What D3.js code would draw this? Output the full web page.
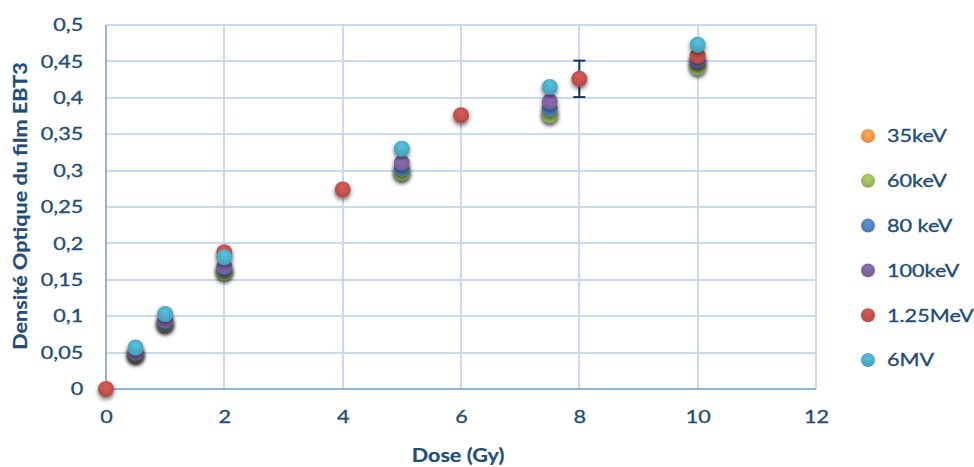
<!DOCTYPE html>
<meta charset='utf-8'>
<style>
body { margin: 0; background: #fff; overflow: hidden; }
text { font-family: Lato, 'Open Sans', sans-serif; fill: #1f4e79; stroke: #1f4e79; stroke-width: 0.35px; }
.grid line { stroke: #c9daf0; stroke-width: 2; shape-rendering: crispEdges; }
.axis path, .axis line { display: none; }
</style>
<svg width='974' height='467'></svg>
<script src='https://cdnjs.cloudflare.com/ajax/libs/d3/7.8.5/d3.min.js'></script>
<script>

// series (Office palette), doses in Gy, optical density values
var seriesNames = ['35keV', '60keV', '80 keV', '100keV', '1.25MeV', '6MV'];
var seriesColors = ['#f79646', '#9bbb59', '#4f81bd', '#8064a2', '#c0504d', '#4bacc6'];

var dose_kV = [0.5, 1, 2, 5, 7.5, 10];
var od_35keV = [0.048, 0.090, 0.162, 0.298, 0.378, 0.445];
var od_60keV = [0.047, 0.089, 0.160, 0.297, 0.376, 0.442];
var od_80keV = [0.049, 0.091, 0.165, 0.303, 0.385, 0.450];
var od_100keV = [0.050, 0.094, 0.168, 0.311, 0.395, 0.452];

var dose_co = [0, 2, 4, 6, 8, 10];
var od_125MeV = [0, 0.188, 0.274, 0.376, 0.426, 0.458];
var err_125MeV = [0, 0, 0, 0, 0.025, 0];

var dose_6MV = [0.5, 1, 2, 5, 7.5, 10];
var od_6MV = [0.057, 0.103, 0.181, 0.330, 0.415, 0.473];

var xTicks = [0, 2, 4, 6, 8, 10, 12];
var yTicks = [0, 0.05, 0.1, 0.15, 0.2, 0.25, 0.3, 0.35, 0.4, 0.45, 0.5];

var series = [
    { name: seriesNames[0], color: seriesColors[0], x: dose_kV, y: od_35keV },
    { name: seriesNames[1], color: seriesColors[1], x: dose_kV, y: od_60keV },
    { name: seriesNames[2], color: seriesColors[2], x: dose_kV, y: od_80keV },
    { name: seriesNames[3], color: seriesColors[3], x: dose_kV, y: od_100keV },
    { name: seriesNames[4], color: seriesColors[4], x: dose_co, y: od_125MeV, err: err_125MeV },
    { name: seriesNames[5], color: seriesColors[5], x: dose_6MV, y: od_6MV }
];

var svg = d3.select('svg'),
    margin = { left: 106, right: 158, top: 25, bottom: 78 },
    width = +svg.attr('width') - margin.left - margin.right,
    height = +svg.attr('height') - margin.top - margin.bottom,
    stretch = 1.2; // the original text is horizontally widened

var x = d3.scaleLinear().domain([0, 12]).range([0, width]);
var y = d3.scaleLinear().domain([0, 0.5]).range([height, 0]);

var defs = svg.append('defs');
var shadow = defs.append('filter').attr('id', 'shadow')
    .attr('x', '-60%').attr('y', '-60%').attr('width', '220%').attr('height', '220%');
shadow.append('feDropShadow').attr('dx', 0).attr('dy', 2.5).attr('stdDeviation', 2)
    .attr('flood-color', '#000').attr('flood-opacity', 0.55);

// glossy look per series
series.forEach(function(s, i) {
    var g = defs.append('radialGradient').attr('id', 'grad' + i)
        .attr('cx', '50%').attr('cy', '35%').attr('r', '65%');
    g.append('stop').attr('offset', '0%').attr('stop-color', d3.color(s.color).brighter(0.35));
    g.append('stop').attr('offset', '100%').attr('stop-color', d3.color(s.color).darker(0.25));
});

var chart = svg.append('g').attr('transform', `translate(${margin.left},${margin.top})`);

// gridlines
chart.append('g').attr('class', 'grid')
    .selectAll('line.h').data(yTicks.slice(1)).enter().append('line')
    .attr('x1', 0).attr('x2', width).attr('y1', d => y(d)).attr('y2', d => y(d));
chart.append('g').attr('class', 'grid')
    .selectAll('line.v').data(xTicks.slice(1)).enter().append('line')
    .attr('y1', 0).attr('y2', height).attr('x1', d => x(d)).attr('x2', d => x(d));

// axis lines
chart.append('line').attr('x1', 0).attr('x2', 0).attr('y1', 0).attr('y2', height)
    .attr('stroke', '#95b3d7').attr('stroke-width', 2);
chart.append('line').attr('x1', 0).attr('x2', width).attr('y1', height).attr('y2', height)
    .attr('stroke', '#95b3d7').attr('stroke-width', 2);

// tick labels
var fmt = d => String(d).replace('.', ',');
chart.append('g').attr('class', 'axis')
    .attr('transform', `translate(0,${height})`)
    .call(d3.axisBottom(x).tickValues(xTicks).tickSize(0).tickPadding(21).tickFormat(d3.format('d')))
    .selectAll('text').style('font-size', '18px').attr('fill', '#1f4e79')
    .attr('transform', `scale(${stretch},1)`);
chart.append('g').attr('class', 'axis')
    .call(d3.axisLeft(y).tickValues(yTicks).tickSize(0).tickPadding(19).tickFormat(fmt))
    .selectAll('text').style('font-size', '18px').attr('fill', '#1f4e79')
    .attr('transform', `scale(${stretch},1)`);

// axis titles
svg.append('text').attr('transform', `translate(${margin.left + x(6) - 3},462) scale(${stretch},1)`)
    .attr('text-anchor', 'middle').style('font-size', '18px').style('font-weight', 'bold')
    .style('stroke-width', '0.2px')
    .text('Dose (Gy)');
svg.append('text').attr('transform', `translate(27,${margin.top + y(0.25) - 1}) rotate(-90) scale(${stretch},1)`)
    .attr('text-anchor', 'middle').style('font-size', '18px').style('font-weight', 'bold')
    .style('stroke-width', '0.2px')
    .text('Densité Optique du film EBT3');

// error bars
series.forEach(function(s) {
    if (!s.err) return;
    var eg = chart.append('g').attr('stroke', '#17375e').attr('stroke-width', 2);
    s.x.forEach(function(dx, j) {
        var e = s.err[j];
        if (!e) return;
        var cx = x(dx);
        eg.append('line').attr('x1', cx).attr('x2', cx).attr('y1', y(s.y[j] + e)).attr('y2', y(s.y[j] - e));
        eg.append('line').attr('x1', cx - 6).attr('x2', cx + 6).attr('y1', y(s.y[j] + e)).attr('y2', y(s.y[j] + e));
        eg.append('line').attr('x1', cx - 6).attr('x2', cx + 6).attr('y1', y(s.y[j] - e)).attr('y2', y(s.y[j] - e));
    });
});

// points
series.forEach(function(s, i) {
    chart.append('g').selectAll('circle').data(s.x.map((d, j) => [d, s.y[j]])).enter()
        .append('circle')
        .attr('cx', d => x(d[0])).attr('cy', d => y(d[1])).attr('r', 8)
        .attr('fill', `url(#grad${i})`).attr('filter', 'url(#shadow)');
});

// legend
var legend = svg.append('g').attr('transform', 'translate(868,136)');
series.forEach(function(s, i) {
    var row = legend.append('g').attr('transform', `translate(0,${i * 44.8})`);
    row.append('circle').attr('r', 7).attr('fill', `url(#grad${i})`);
    row.append('text').attr('transform', `translate(19,0) scale(${stretch},1)`)
        .attr('dy', '0.35em').style('font-size', '18px').text(s.name);
});
</script>
